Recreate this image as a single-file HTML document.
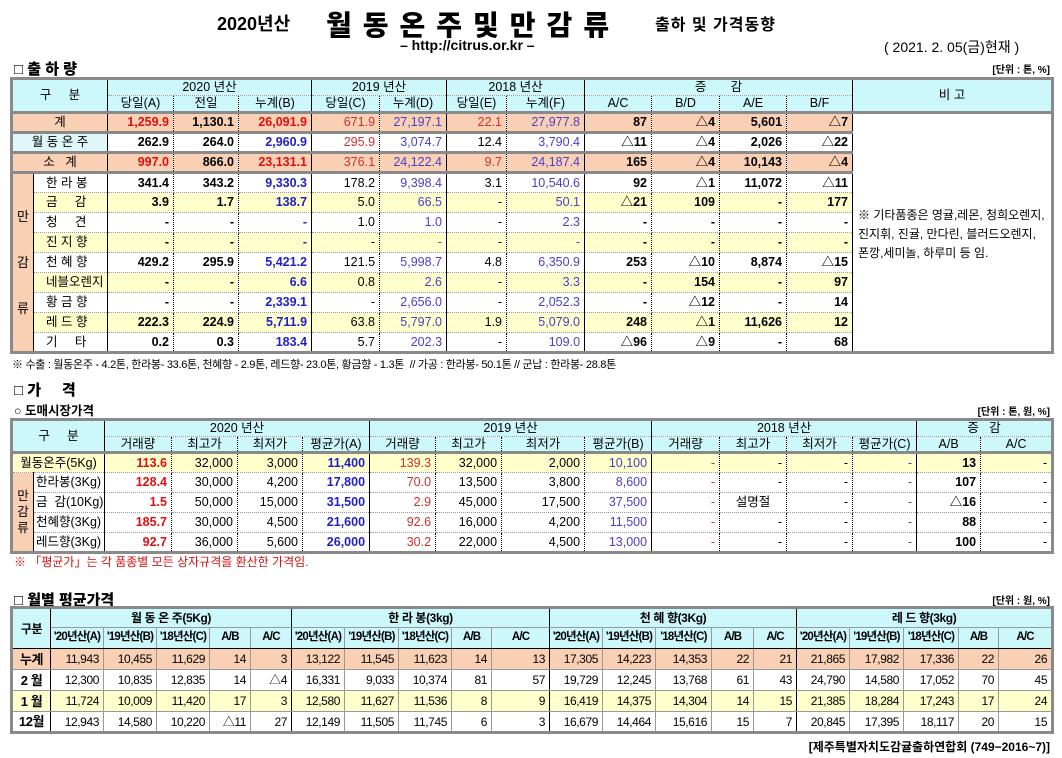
<!DOCTYPE html>
<html><head><meta charset="utf-8">
<style>
*{margin:0;padding:0;box-sizing:border-box}
body{width:1062px;height:758px;background:#fff;position:relative;overflow:hidden;font-family:"Liberation Sans","Noto Sans CJK KR",sans-serif;color:#000}
.abs{position:absolute;white-space:nowrap}
table{position:absolute;border-collapse:collapse;table-layout:fixed;border:3px solid #8a8a8a;font-size:12.5px}
td{border-right:1px dotted #000;border-bottom:1px dotted #999;text-align:right;padding:0 4px;overflow:hidden;white-space:nowrap;line-height:1}
td.c{text-align:center;padding:0}
td.h{background:#ccf8fc;text-align:center;padding:0}
td.sr{border-right:1px solid #000}
td.gb{border-bottom:3px solid #8a8a8a}
.b{font-weight:bold}
.r{color:#e01010}.rl{color:#d03030}.bl{color:#1f1fc8}.bll{color:#4a3fc8}
.pe{background:#f9d0b4}.ye{background:#ffffcc}.cy{background:#dff7fb}
#t3 td{border-right:1px solid #999;border-bottom:1px solid #999;font-size:12px;letter-spacing:-0.4px}
#t3 td.sr{border-right:1.5px solid #000}
</style></head><body>
<div class="abs" style="left:217px;top:10px;font-size:18px;font-weight:bold">2020년산</div>
<div class="abs" style="left:326px;top:4px;font-size:28px;font-weight:900;letter-spacing:11px">월동온주및만감류</div>
<div class="abs" style="left:655px;top:11px;font-size:16px;font-weight:bold;letter-spacing:1px">출하 및 가격동향</div>
<div class="abs" style="left:400px;top:37px;font-size:14px;font-weight:bold">– http://citrus.or.kr –</div>
<div class="abs" style="left:884px;top:37px;font-size:14px">( 2021. 2. 05(금)현재 )</div>

<div class="abs" style="left:14px;top:58px;font-size:15px;font-weight:900">□ 출 하 량</div>
<div class="abs" style="right:12px;top:61px;font-size:10px;font-weight:bold">[단위 : 톤, %]</div>

<table id="t1" style="left:10px;top:77px;width:1041px"></table>
<div class="abs" style="left:12px;top:356px;font-size:11px;letter-spacing:-0.3px">※ 수출 : 월동온주 - 4.2톤, 한라봉- 33.6톤, 천혜향 - 2.9톤, 레드향- 23.0톤, 황금향 - 1.3톤 &nbsp;// 가공 : 한라봉- 50.1톤 // 군납 : 한라봉- 28.8톤</div>

<div class="abs" style="left:14px;top:379px;font-size:15px;font-weight:900">□ 가 &nbsp; &nbsp; 격</div>
<div class="abs" style="left:14px;top:400px;font-size:12.5px;font-weight:bold">○ 도매시장가격</div>
<div class="abs" style="right:12px;top:403px;font-size:10px;font-weight:bold">[단위 : 톤, 원, %]</div>
<table id="t2" style="left:10px;top:418px;width:1041px"></table>
<div class="abs" style="left:14px;top:553px;font-size:12px;color:#d01010">※ 「평균가」는 각 품종별 모든 상자규격을 환산한 가격임.</div>

<div class="abs" style="left:14px;top:589px;font-size:15px;font-weight:900">□ 월별 평균가격</div>
<div class="abs" style="right:12px;top:592px;font-size:10px;font-weight:bold">[단위 : 원, %]</div>
<table id="t3" style="left:10px;top:606px;width:1041px"></table>
<div class="abs" style="right:12px;top:738px;font-size:12px;font-weight:bold">[제주특별자치도감귤출하연합회 (749−2016~7)]</div>

<script>
const t1Names=["계","월동온주","소계","한라봉","금감","청견","진지향","천혜향","네블오렌지","황금향","레드향","기타"];
const t1Labels=["계","월 동 온 주","소 &nbsp; 계","한 라 봉","금 &nbsp; &nbsp; 감","청 &nbsp; &nbsp; 견","진 지 향","천 혜 향","네블오렌지","황 금 향","레 드 향","기 &nbsp; &nbsp; 타"];
const t1Bg=["pe","","pe","","ye","","ye","","ye","","ye",""];
const t1Vals=[
["1,259.9","1,130.1","26,091.9","671.9","27,197.1","22.1","27,977.8","87","△4","5,601","△7"],
["262.9","264.0","2,960.9","295.9","3,074.7","12.4","3,790.4","△11","△4","2,026","△22"],
["997.0","866.0","23,131.1","376.1","24,122.4","9.7","24,187.4","165","△4","10,143","△4"],
["341.4","343.2","9,330.3","178.2","9,398.4","3.1","10,540.6","92","△1","11,072","△11"],
["3.9","1.7","138.7","5.0","66.5","-","50.1","△21","109","-","177"],
["-","-","-","1.0","1.0","-","2.3","-","-","-","-"],
["-","-","-","-","-","-","-","-","-","-","-"],
["429.2","295.9","5,421.2","121.5","5,998.7","4.8","6,350.9","253","△10","8,874","△15"],
["-","-","6.6","0.8","2.6","-","3.3","-","154","-","97"],
["-","-","2,339.1","-","2,656.0","-","2,052.3","-","△12","-","14"],
["222.3","224.9","5,711.9","63.8","5,797.0","1.9","5,079.0","248","△1","11,626","12"],
["0.2","0.3","183.4","5.7","202.3","-","109.0","△96","△9","-","68"]];

const t2Labels=["월동온주(5Kg)","한라봉(3Kg)","금 &nbsp;감(10Kg)","천혜향(3Kg)","레드향(3Kg)"];
const t2Vals=[
["113.6","32,000","3,000","11,400","139.3","32,000","2,000","10,100","-","-","-","-","13","-"],
["128.4","30,000","4,200","17,800","70.0","13,500","3,800","8,600","-","-","-","-","107","-"],
["1.5","50,000","15,000","31,500","2.9","45,000","17,500","37,500","-","설명절","-","-","△16","-"],
["185.7","30,000","4,500","21,600","92.6","16,000","4,200","11,500","-","-","-","-","88","-"],
["92.7","36,000","5,600","26,000","30.2","22,000","4,500","13,000","-","-","-","-","100","-"]];

const t3Months=["누계","2 월","1 월","12월"];
const t3Bg=["pe","","ye",""];
const t3Groups=["월 동 온 주(5Kg)","한 라 봉(3kg)","천 혜 향(3Kg)","레 드 향(3kg)"];
const t3Sub=["'20년산(A)","'19년산(B)","'18년산(C)","A/B","A/C"];
const t3Vals=[
["11,943","10,455","11,629","14","3","13,122","11,545","11,623","14","13","17,305","14,223","14,353","22","21","21,865","17,982","17,336","22","26"],
["12,300","10,835","12,835","14","△4","16,331","9,033","10,374","81","57","19,729","12,245","13,768","61","43","24,790","14,580","17,052","70","45"],
["11,724","10,009","11,420","17","3","12,580","11,627","11,536","8","9","16,419","14,375","14,304","14","15","21,385","18,284","17,243","17","24"],
["12,943","14,580","10,220","△11","27","12,149","11,505","11,745","6","3","16,679","14,464","15,616","15","7","20,845","17,395","18,117","20","15"]];

function cols(t,edges){const cg=document.createElement('colgroup');for(let i=1;i<edges.length;i++){const c=document.createElement('col');c.style.width=(edges[i]-edges[i-1])+'px';cg.appendChild(c);}t.appendChild(cg);}
function row(t,h,name){const tr=document.createElement('tr');tr.style.height=h+'px';


t.appendChild(tr);return tr;}
function cell(tr,html,cls,name,cs,rs){const td=document.createElement('td');td.innerHTML=html;td.className=cls||'';if(cs)td.colSpan=cs;if(rs)td.rowSpan=rs;


tr.appendChild(td);return td;}

// Table 1
const t1=document.getElementById('t1');
cols(t1,[10,32,106,172,237,310,378,445,505,583,650,718,785,851,1051]);
let tr=row(t1,17,'header-row-1');
cell(tr,'구 &nbsp; &nbsp; 분','h sr gb','header-category',2,2);
cell(tr,'2020 년산','h sr','header-2020',3);
cell(tr,'2019 년산','h sr','header-2019',2);
cell(tr,'2018 년산','h sr','header-2018',2);
cell(tr,'증 &nbsp; &nbsp; &nbsp; 감','h sr','header-change',4);
cell(tr,'비 고','h gb','header-remarks',1,2).style.borderRight='0';
tr=row(t1,17,'header-row-2');
["당일(A)","전일","누계(B)","당일(C)","누계(D)","당일(E)","누계(F)","A/C","B/D","A/E","B/F"].forEach((s,i)=>cell(tr,s,'h gb'+([2,4,6,10].includes(i)?' sr':''),'header-'+s.toLowerCase().replace(/[()\/]/g,'')));
t1Vals.forEach((v,ri)=>{
  const tr=row(t1,20,'row-'+t1Names[ri]);
  const bg=t1Bg[ri];const top=ri<3;
  const gb=top?' gb':'';
  if(top){cell(tr,t1Labels[ri],'c sr'+gb+' '+(ri==1?'cy':bg),'label-'+t1Names[ri],2);}
  else{
    if(ri==3){const m=cell(tr,'만<br>감<br>류','c pe sr','label-mandarin-group',1,9);m.style.fontSize='13px';m.style.lineHeight='46px';}
    cell(tr,t1Labels[ri],'c sr '+bg,'label-'+t1Names[ri]).style.textAlign='left';
    tr.lastChild.style.paddingLeft='12px';
  }
  v.forEach((x,ci)=>{
    let cl=bg+gb;
    const red=(ri==0||ri==2);
    if(ci==0)cl+=' b'+(red?' r':'');
    if(ci==1)cl+=' b';
    if(ci==2)cl+=' b sr '+(red?'r':'bl');
    if(ci==3)cl+=(red||ri==1)?' rl':'';
    if(ci==4)cl+=' sr bll';
    if(ci==5)cl+=red?' rl':'';
    if(ci==6)cl+=' sr bll';
    if(ci>=7)cl+=' b';
    if(ci==10)cl+=' sr';
    cell(tr,x,cl,'cell-'+t1Names[ri]+'-'+ci);
  });
  if(ri==0){const c=cell(tr,'','c','remarks-cell',1,12);c.style.textAlign='left';c.style.verticalAlign='top';c.style.whiteSpace='normal';c.style.wordBreak='break-all';c.style.fontSize='12px';c.style.lineHeight='19px';c.style.padding='92px 3px 0 5px';c.textContent='※ 기타품종은 영귤,레몬, 청희오렌지, 진지휘, 진귤, 만다린, 블러드오렌지, 폰깡,세미놀, 하루미 등 임.';c.style.borderBottom='0';c.style.borderRight='0';}
});

// Table 2
const t2=document.getElementById('t2');
cols(t2,[10,32,103,170,236,301,368,434,500,583,650,718,785,851,915,979,1051]);
tr=row(t2,17,'price-header-row-1');
cell(tr,'구 &nbsp; &nbsp; 분','h sr gb','price-header-category',2,2);
cell(tr,'2020 년산','h sr','price-header-2020',4);
cell(tr,'2019 년산','h sr','price-header-2019',4);
cell(tr,'2018 년산','h sr','price-header-2018',4);
cell(tr,'증 &nbsp; 감','h','price-header-change',2).style.borderRight='0';
tr=row(t2,16,'price-header-row-2');
["거래량","최고가","최저가","평균가(A)","거래량","최고가","최저가","평균가(B)","거래량","최고가","최저가","평균가(C)","A/B","A/C"].forEach((s,i)=>cell(tr,s,'h gb'+([3,7,11].includes(i)?' sr':''),'price-header-'+i));
t2Vals.forEach((v,ri)=>{
  const tr=row(t2,20,'price-row-'+ri);
  const bg=ri==0?'ye':'';
  if(ri==0)cell(tr,t2Labels[0],'c sr ye','price-label-0',2);
  else{ if(ri==1)cell(tr,'만<br>감<br>류','c pe sr','price-label-mandarin',1,4).style.lineHeight='16px';
    const c=cell(tr,t2Labels[ri],'c sr','price-label-'+ri);c.style.textAlign='left';c.style.paddingLeft='2px';}
  v.forEach((x,ci)=>{
    let cl=bg;
    if(ci==0)cl+=' b r';
    if(ci==3)cl+=' b bl sr';
    if(ci==4)cl+=' rl';
    if(ci==7)cl+=' bll sr';
    if(ci==8)cl+=' rl';
    if(ci==9&&x!='-')cl+=' c';
    if(ci==11)cl+=' bll sr';
    if(ci==12)cl+=' b';
    const c=cell(tr,x,cl,'price-cell-'+ri+'-'+ci);
    if(ci==13)c.style.borderRight='0';
  });
});

// Table 3
const t3=document.getElementById('t3');
cols(t3,[10,49,102,155,208,249,290,343,397,450,490,548,601,654,710,752,795,848,902,957,997,1051]);
tr=row(t3,20,'monthly-header-row-1');
cell(tr,'구분','h b sr','monthly-header-category',1,2).style.borderBottom='1.5px solid #000';
t3Groups.forEach((g,i)=>cell(tr,g,'h b'+(i<3?' sr':''),'monthly-header-group-'+i,5));
tr=row(t3,21,'monthly-header-row-2');
for(let g=0;g<4;g++)t3Sub.forEach((s,i)=>{const c=cell(tr,s,'h b'+(i==4&&g<3?' sr':''),'monthly-subheader-'+g+'-'+i);c.style.borderBottom='1.5px solid #000';c.style.fontSize='11.5px';c.style.letterSpacing='-0.8px';});
t3Vals.forEach((v,ri)=>{
  const tr=row(t3,21,'monthly-row-'+ri);
  cell(tr,t3Months[ri],'c b sr '+t3Bg[ri],'monthly-label-'+ri).style.fontSize='13px';
  v.forEach((x,ci)=>cell(tr,x,t3Bg[ri]+(ci%5==4&&ci<19?' sr':''),'monthly-cell-'+ri+'-'+ci));
});
</script>
</body></html>
